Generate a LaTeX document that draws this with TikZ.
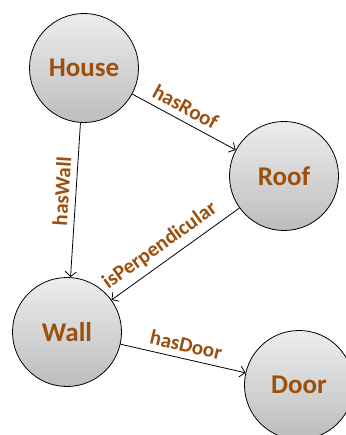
\documentclass[tikz,border=0pt]{standalone}
\usepackage{fontspec}
\setmainfont{Carlito}
\usepackage{tikz}
\usetikzlibrary{arrows.meta, positioning, calc}
\definecolor{labelbrown}{RGB}{157, 80, 13}

\begin{document}
\begin{tikzpicture}[
    x=1pt, y=-1pt,
    classnode/.style={circle, draw=black, line width=0.8pt, top color=black!7, bottom color=black!26, minimum size=109pt, inner sep=0pt, text=labelbrown, font=\fontsize{27}{31}\selectfont\bfseries},
    arrow/.style={-{Straight Barb[length=5pt, width=11pt]}, line width=0.8pt, black},
    edgelabel/.style={sloped, above=3pt, text=labelbrown, font=\fontsize{21}{25}\selectfont\bfseries}
]
\useasboundingbox (0,0) rectangle (345,435);

\node[classnode] (house) at (84,68) {House};
\node[classnode] (roof) at (284,176) {Roof};
\node[classnode] (wall) at (67,332) {Wall};
\node[classnode] (door) at (299,385) {Door};

\draw[arrow] (house) -- node[edgelabel, pos=0.45] {hasRoof} (roof);
\draw[arrow] (house) -- node[edgelabel, pos=0.45] {hasWall} (wall);
\draw[arrow] (roof) -- node[edgelabel, pos=0.55] {isPerpendicular} (wall);
\draw[arrow] (wall) -- node[edgelabel] {hasDoor} (door);

\end{tikzpicture}
\end{document}
